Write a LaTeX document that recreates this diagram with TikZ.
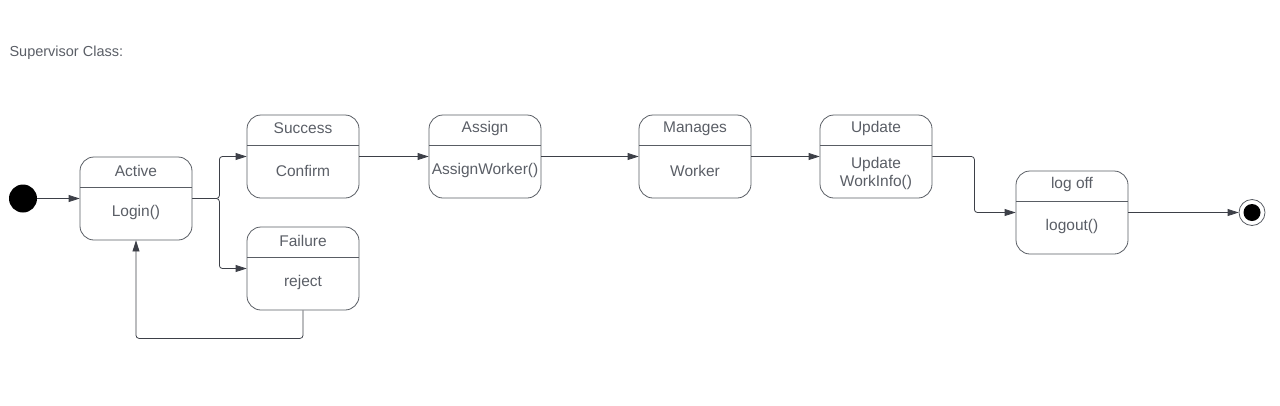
\documentclass[tikz,border=0pt]{standalone}
\usepackage{fontspec}
\setmainfont{Liberation Sans}
\usetikzlibrary{arrows.meta}
\definecolor{edgeclr}{HTML}{3D4048}
\definecolor{boxclr}{HTML}{595D64}
\definecolor{txtclr}{HTML}{5A5E66}

\begin{document}
\begin{tikzpicture}[x=1pt, y=-1pt, font=\fontsize{15.5}{18}\selectfont, >={Triangle[length=11pt,width=7pt]},
  state/.style={draw=boxclr, line width=0.8pt, rounded corners=14pt, minimum width=112pt, minimum height=83pt, inner sep=0pt,
    path picture={\draw[boxclr,line width=0.8pt] ([yshift=-30pt]path picture bounding box.north west) -- ([yshift=-30pt]path picture bounding box.north east);},
    label={[txtclr,anchor=center,yshift=-14pt]north:#1}},
  flow/.style={->, edgeclr, line width=0.8pt, rounded corners=3pt}]
  \useasboundingbox (0,0) rectangle (1280,405);

  \node[anchor=base west, txtclr, font=\fontsize{14.5}{17}\selectfont] (title) at (6,56) {Supervisor Class:};

  \node[circle, fill=black, minimum size=28pt, inner sep=0pt] (init) at (23,198.5) {};

  \node[state=Active, label={[txtclr,anchor=center,yshift=-56pt]north:Login()}] (act) at (136,198.5) {};
  \node[state=Success, label={[txtclr,anchor=center,yshift=-56pt]north:Confirm}] (succ) at (303,156.5) {};
  \node[state=Failure, label={[txtclr,anchor=center,yshift=-56pt]north:reject}] (fail) at (303,268.5) {};
  \node[state=Assign, label={[txtclr,anchor=center,yshift=-56pt]north:AssignWorker()}] (asg) at (485,156.5) {};
  \node[state=Manages, label={[txtclr,anchor=center,yshift=-56pt]north:Worker}] (mgr) at (695,156.5) {};
  \node[state=Update, label={[txtclr,anchor=center,align=center,yshift=-59pt]north:{Update\\WorkInfo()}}] (upd) at (876,156.5) {};
  \node[state=log off, label={[txtclr,anchor=center,yshift=-56pt]north:logout()}] (logoff) at (1072,212.5) {};

  \node[circle, draw=boxclr, line width=0.8pt, minimum size=26pt, inner sep=0pt,
    path picture={\fill[black] (path picture bounding box.center) circle (8.5pt);}] (fin) at (1252,212.5) {};

  \draw[flow] (init) -- (act);
  \draw[flow] (act.east) -- ++(27,0) |- (succ.west);
  \draw[flow] (act.east) -- ++(27,0) |- (fail.west);
  \draw[flow] (fail.south) -- ++(0,28) -| (act.south);
  \draw[flow] (succ) -- (asg);
  \draw[flow] (asg) -- (mgr);
  \draw[flow] (mgr) -- (upd);
  \draw[flow] (upd.east) -- ++(42,0) |- (logoff.west);
  \draw[flow] (logoff) -- (fin);
\end{tikzpicture}
\end{document}
